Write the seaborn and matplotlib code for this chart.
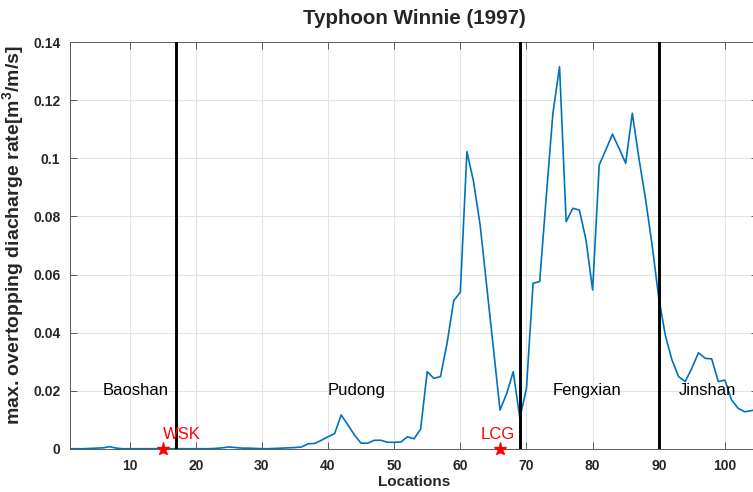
import numpy as np
import pandas as pd
import matplotlib
matplotlib.use("Agg")
import matplotlib.pyplot as plt
import seaborn as sns

# Maximum overtopping discharge rate along the seawall (location index 1..105)
locations = list(range(1, 106))
discharge = [
    0.0001, 0.0001, 0.0001, 0.0002, 0.0003, 0.0004, 0.0008, 0.0003, 0.0001, 0.0001,
    0.0001, 0.0001, 0.0001, 0.0001, 0.0001, 0.0001, 0.0001, 0.0001, 0.0001, 0.0001,
    0.0001, 0.0001, 0.0002, 0.0004, 0.0007, 0.0005, 0.0003, 0.0003, 0.0002, 0.0001,
    0.0001, 0.0002, 0.0003, 0.0004, 0.0005, 0.0007, 0.0018, 0.0019, 0.0030, 0.0042,
    0.0053, 0.0117, 0.0083, 0.0048, 0.0020, 0.0020, 0.0030, 0.0030, 0.0023, 0.0023,
    0.0024, 0.0042, 0.0035, 0.0068, 0.0266, 0.0243, 0.0249, 0.0364, 0.0510, 0.0539,
    0.1023, 0.0920, 0.0770, 0.0558, 0.0347, 0.0134, 0.0190, 0.0266, 0.0106, 0.0209,
    0.0570, 0.0576, 0.0870, 0.1155, 0.1315, 0.0782, 0.0828, 0.0822, 0.0719, 0.0547,
    0.0977, 0.1029, 0.1083, 0.1034, 0.0983, 0.1155, 0.1000, 0.0860, 0.0700, 0.0520,
    0.0390, 0.0306, 0.0249, 0.0232, 0.0278, 0.0331, 0.0312, 0.0310, 0.0232, 0.0237,
    0.0169, 0.0140, 0.0128, 0.0132, 0.0137,
]

# District boundaries and labels
boundaries = [17, 69, 90]
district_names = ["Baoshan", "Pudong", "Fengxian", "Jinshan"]
district_x = [6, 40, 74, 93]
district_y = 0.02

# Tide gauge stations
station_names = ["WSK", "LCG"]
station_loc = [15, 66]
station_label_x = [15, 63]
station_label_y = 0.005

x_ticks = [10, 20, 30, 40, 50, 60, 70, 80, 90, 100]
y_ticks = [0, 0.02, 0.04, 0.06, 0.08, 0.1, 0.12, 0.14]
y_tick_labels = ["0", "0.02", "0.04", "0.06", "0.08", "0.1", "0.12", "0.14"]

sns.set_theme(style="ticks")
plt.rcParams["font.family"] = ["Liberation Sans", "DejaVu Sans"]
plt.rcParams["mathtext.fontset"] = "custom"
plt.rcParams["mathtext.rm"] = "Liberation Sans"
plt.rcParams["mathtext.bf"] = "Liberation Sans:bold"

W, H = 753, 492
fig = plt.figure(figsize=(W / 100, H / 100), dpi=100)
ax = fig.add_axes([70 / W, (H - 449) / H, (758 - 70) / W, (449 - 42) / H])

df = pd.DataFrame({"Location": locations, "Discharge": discharge})
sns.lineplot(data=df, x="Location", y="Discharge", ax=ax, color="#0072BD",
             linewidth=1.2, zorder=3)

for b in boundaries:
    ax.axvline(b, color="black", linewidth=2.1, zorder=4)

for name, x in zip(district_names, district_x):
    ax.text(x, district_y, name, fontsize=12, ha="left", va="center",
            color="black", zorder=5)

for name, loc, lx in zip(station_names, station_loc, station_label_x):
    ax.plot(loc, 0, marker="*", color="red", markersize=9.5, linestyle="none",
            zorder=6, clip_on=False)
    ax.text(lx, station_label_y, name, fontsize=12, color="red",
            ha="left", va="center", zorder=6)

ax.set_xlim(1, 105)
ax.set_ylim(0, 0.14)
ax.set_xticks(x_ticks)
ax.set_yticks(y_ticks)
ax.set_yticklabels(y_tick_labels)

ax.grid(True, color="#e3e3e3", linewidth=0.8, zorder=0)
ax.set_axisbelow(True)
for side in ["left", "right", "top", "bottom"]:
    ax.spines[side].set_visible(True)
    ax.spines[side].set_color("#5a5a5a")
    ax.spines[side].set_linewidth(0.7)
ax.tick_params(direction="in", length=5, width=0.7, color="#5a5a5a",
               top=True, right=True, labelsize=10, pad=7)
for lbl in ax.get_xticklabels() + ax.get_yticklabels():
    lbl.set_fontweight("bold")

ax.set_xlabel("Locations", fontsize=11, fontweight="bold", labelpad=2)
ax.set_ylabel(r"max. overtopping diacharge rate[m$^{\mathbf{3}}$/m/s]",
              fontsize=14, fontweight="bold")
ax.yaxis.set_label_coords(-0.063, 0.525)
ax.set_title("Typhoon Winnie (1997)", fontsize=14.8, fontweight="bold", pad=13)

fig.savefig("out.png", dpi=100)
